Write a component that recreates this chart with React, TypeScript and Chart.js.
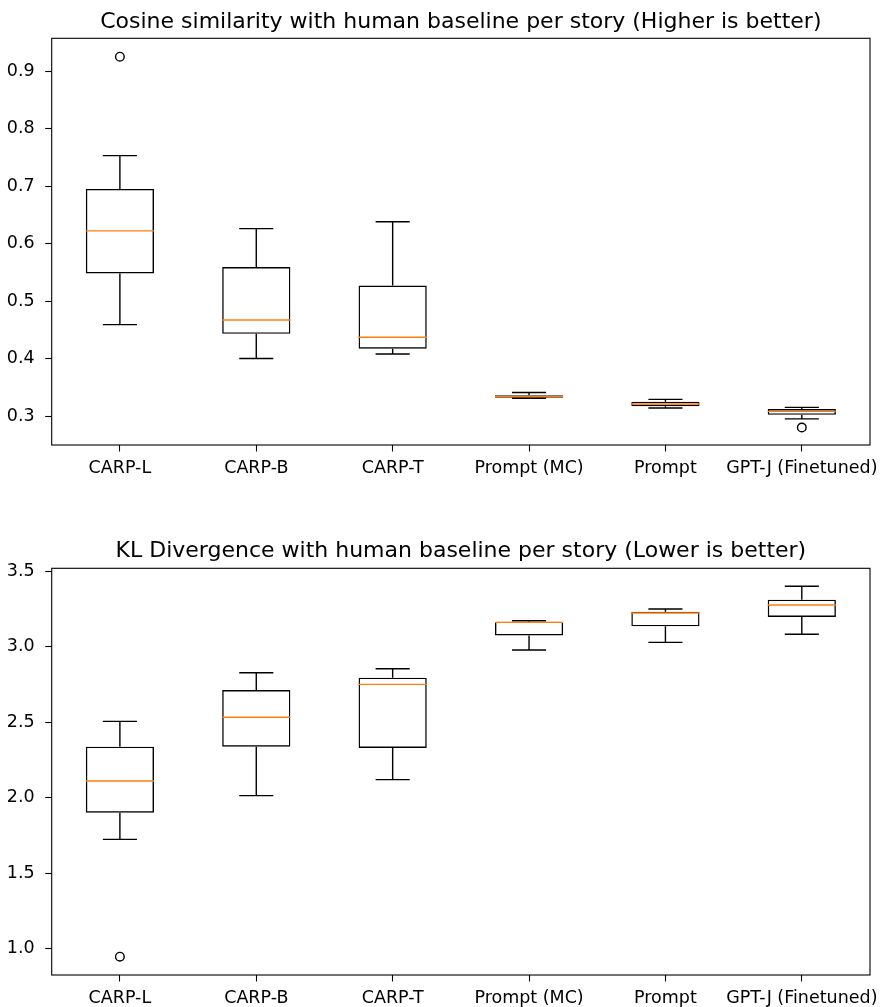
import React, { useEffect, useRef } from 'react';
import { Chart, registerables } from 'chart.js';
Chart.register(...registerables);

const categories = ['CARP-L', 'CARP-B', 'CARP-T', 'Prompt (MC)', 'Prompt', 'GPT-J (Finetuned)'];

// Cosine similarity (top)
const cosLow = [0.459, 0.400, 0.408, 0.331, 0.314, 0.295];
const cosQ1 = [0.548, 0.443, 0.417, 0.332, 0.317, 0.302];
const cosMedian = [0.622, 0.467, 0.437, 0.334, 0.321, 0.308];
const cosQ3 = [0.695, 0.559, 0.527, 0.336, 0.325, 0.312];
const cosHigh = [0.753, 0.626, 0.638, 0.341, 0.329, 0.315];
const cosOutliers = [
  { x: 'CARP-L', y: 0.925 },
  { x: 'GPT-J (Finetuned)', y: 0.28 },
];
const cosTicks = [0.3, 0.4, 0.5, 0.6, 0.7, 0.8, 0.9];
const cosRange = [0.2496, 0.957];
const cosTitle = 'Cosine similarity with human baseline per story (Higher is better)';

// KL divergence (bottom)
const klLow = [1.724, 2.013, 2.119, 2.977, 3.028, 3.081];
const klQ1 = [1.9, 2.337, 2.329, 3.074, 3.134, 3.196];
const klMedian = [2.11, 2.532, 2.75, 3.16, 3.222, 3.275];
const klQ3 = [2.337, 2.712, 2.794, 3.165, 3.231, 3.31];
const klHigh = [2.505, 2.827, 2.853, 3.171, 3.249, 3.399];
const klOutliers = [{ x: 'CARP-L', y: 0.947 }];
const klTicks = [1.0, 1.5, 2.0, 2.5, 3.0, 3.5];
const klRange = [0.826, 3.518];
const klTitle = 'KL Divergence with human baseline per story (Lower is better)';

const FONT = "'DejaVu Sans', sans-serif";

const boxPlugin = {
  id: 'boxExtras',
  afterDatasetsDraw(chart: any, _args: any, opts: any) {
    const { ctx, scales } = chart;
    const x = scales.x;
    const y = scales.y;
    const band = x.getPixelForValue(1) - x.getPixelForValue(0);
    const capHalf = band * 0.125;
    const boxHalf = band * 0.25;
    ctx.save();
    ctx.lineCap = 'butt';
    for (let i = 0; i < opts.low.length; i++) {
      const cx = x.getPixelForValue(i);
      ctx.strokeStyle = '#000';
      ctx.lineWidth = 1.4;
      ctx.beginPath();
      ctx.moveTo(cx, y.getPixelForValue(opts.q1[i]));
      ctx.lineTo(cx, y.getPixelForValue(opts.low[i]));
      ctx.moveTo(cx, y.getPixelForValue(opts.q3[i]));
      ctx.lineTo(cx, y.getPixelForValue(opts.high[i]));
      ctx.stroke();
      ctx.beginPath();
      const yl = y.getPixelForValue(opts.low[i]);
      const yh = y.getPixelForValue(opts.high[i]);
      ctx.moveTo(cx - capHalf, yl);
      ctx.lineTo(cx + capHalf, yl);
      ctx.moveTo(cx - capHalf, yh);
      ctx.lineTo(cx + capHalf, yh);
      ctx.stroke();
      ctx.strokeStyle = '#ff7f0e';
      ctx.lineWidth = 1.4;
      const ym = y.getPixelForValue(opts.median[i]);
      ctx.beginPath();
      ctx.moveTo(cx - boxHalf, ym);
      ctx.lineTo(cx + boxHalf, ym);
      ctx.stroke();
    }
    ctx.restore();
  },
  afterDraw(chart: any, _args: any, opts: any) {
    const { ctx, chartArea } = chart;
    ctx.save();
    ctx.strokeStyle = '#000';
    ctx.lineWidth = 1.1;
    ctx.strokeRect(chartArea.left, chartArea.top, chartArea.right - chartArea.left, chartArea.bottom - chartArea.top);
    ctx.fillStyle = '#000';
    ctx.font = `${opts.titleSize}px ${FONT}`;
    ctx.textAlign = 'center';
    ctx.textBaseline = 'alphabetic';
    ctx.fillText(opts.title, (chartArea.left + chartArea.right) / 2, opts.titleBaseline);
    ctx.restore();
  },
};

type BoxProps = {
  top: number;
  height: number;
  areaTop: number;
  areaBottom: number;
  titleBaseline: number;
  title: string;
  low: number[];
  q1: number[];
  median: number[];
  q3: number[];
  high: number[];
  outliers: { x: string; y: number }[];
  ticks: number[];
  range: number[];
};

function BoxChart(p: BoxProps) {
  const ref = useRef<HTMLCanvasElement | null>(null);
  useEffect(() => {
    if (!ref.current) return;
    const tickFont = { family: FONT, size: 17.5 };
    const gridOpts = {
      display: true,
      drawOnChartArea: false,
      drawTicks: true,
      tickLength: 6.5,
      tickWidth: 1.1,
      tickColor: '#000',
      offset: false,
    };
    const chart = new Chart(ref.current, {
      type: 'bar',
      data: {
        labels: categories,
        datasets: [
          {
            type: 'bar',
            data: categories.map((_, i) => [p.q1[i], p.q3[i]]) as any,
            backgroundColor: 'rgba(0,0,0,0)',
            borderColor: '#000',
            borderWidth: 1.4,
            borderSkipped: false,
            barPercentage: 0.5,
            categoryPercentage: 1.0,
          } as any,
          {
            type: 'line',
            data: p.outliers as any,
            showLine: false,
            pointRadius: 4.3,
            pointBorderWidth: 1.4,
            pointBackgroundColor: 'rgba(0,0,0,0)',
            pointBorderColor: '#000',
            pointHoverRadius: 4.3,
          } as any,
        ],
      },
      options: {
        responsive: false,
        animation: false,
        layout: { padding: { top: p.areaTop, right: 11, left: 0, bottom: 0 } },
        plugins: {
          legend: { display: false },
          tooltip: { enabled: false },
          title: { display: false },
          boxExtras: {
            low: p.low,
            q1: p.q1,
            median: p.median,
            q3: p.q3,
            high: p.high,
            title: p.title,
            titleSize: 22,
            titleBaseline: p.titleBaseline,
          },
        } as any,
        scales: {
          x: {
            type: 'category',
            offset: true,
            grid: gridOpts,
            border: { display: false },
            ticks: { color: '#000', font: tickFont, padding: 6, maxRotation: 0, autoSkip: false },
            afterFit: (s: any) => {
              s.height = p.height - p.areaBottom;
              s.paddingLeft = 0;
              s.paddingRight = 0;
            },
          },
          y: {
            type: 'linear',
            min: p.range[0],
            max: p.range[1],
            grid: gridOpts,
            border: { display: false },
            ticks: {
              color: '#000',
              font: tickFont,
              padding: 10.5,
              callback: (v: any) => Number(v).toFixed(1),
            },
            afterBuildTicks: (s: any) => {
              s.ticks = p.ticks.map((v) => ({ value: v }));
            },
            afterFit: (s: any) => {
              s.width = 51.7;
              s.paddingTop = 0;
              s.paddingBottom = 0;
            },
          },
        } as any,
      },
      plugins: [boxPlugin],
    });
    return () => chart.destroy();
  }, []);
  return (
    <canvas
      ref={ref}
      width={881}
      height={p.height}
      style={{ position: 'absolute', left: 0, top: p.top, display: 'block' }}
    />
  );
}

export default function App() {
  return (
    <div style={{ position: 'absolute', left: 0, top: 0, width: 881, height: 1007, background: '#fff' }}>
      <BoxChart
        top={0}
        height={490}
        areaTop={38.3}
        areaBottom={445}
        titleBaseline={27.5}
        title={cosTitle}
        low={cosLow}
        q1={cosQ1}
        median={cosMedian}
        q3={cosQ3}
        high={cosHigh}
        outliers={cosOutliers}
        ticks={cosTicks}
        range={cosRange}
      />
      <BoxChart
        top={490}
        height={517}
        areaTop={78.3}
        areaBottom={485}
        titleBaseline={67.3}
        title={klTitle}
        low={klLow}
        q1={klQ1}
        median={klMedian}
        q3={klQ3}
        high={klHigh}
        outliers={klOutliers}
        ticks={klTicks}
        range={klRange}
      />
    </div>
  );
}
